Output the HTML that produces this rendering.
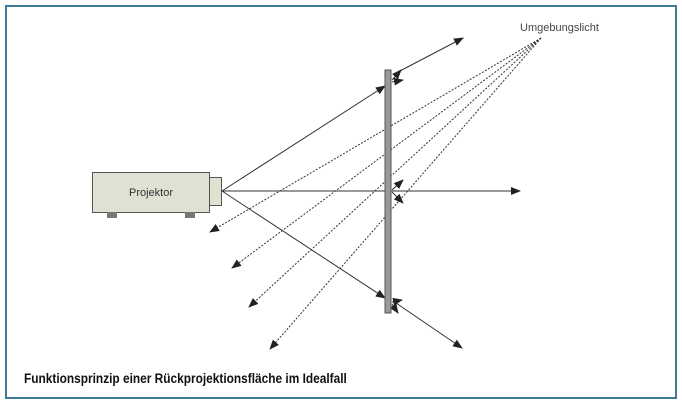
<!DOCTYPE html>
<html><head><meta charset="utf-8"><style>
html,body{margin:0;padding:0;background:#fff;}
body{width:682px;height:405px;position:relative;overflow:hidden;font-family:"Liberation Sans",sans-serif;}
.frame{position:absolute;left:5px;top:5px;width:668px;height:390px;border:2px solid #3d7a98;}
.cap{position:absolute;left:24px;top:371px;font-weight:bold;font-size:13.5px;color:#111;transform:scaleX(0.88);transform-origin:0 0;white-space:nowrap;}
</style></head><body>
<div class="frame"></div>
<svg width="682" height="405" style="position:absolute;left:0;top:0">
<defs>
<marker id="a" markerWidth="10" markerHeight="8" refX="9" refY="4" orient="auto" markerUnits="userSpaceOnUse"><path d="M0,0 L10,4 L0,8 z" fill="#222"/></marker>
</defs>
<g stroke="#333" stroke-width="1" fill="none">
<g stroke-dasharray="2,1.5">
<line x1="541" y1="38" x2="210" y2="232" marker-end="url(#a)"/>
<line x1="541" y1="38" x2="232" y2="268" marker-end="url(#a)"/>
<line x1="541" y1="38" x2="249" y2="307" marker-end="url(#a)"/>
<line x1="541" y1="38" x2="270" y2="349" marker-end="url(#a)"/>
</g>
<line x1="222" y1="191" x2="385" y2="86" marker-end="url(#a)"/>
<line x1="398" y1="72" x2="463" y2="38" marker-end="url(#a)"/>
<line x1="222" y1="191" x2="520" y2="191" marker-end="url(#a)"/>
<line x1="222" y1="191" x2="385" y2="298" marker-end="url(#a)"/>
<line x1="396" y1="303" x2="462" y2="348" marker-end="url(#a)"/>
<line x1="392" y1="190" x2="403" y2="180" marker-end="url(#a)"/>
<line x1="392" y1="192" x2="403" y2="203" marker-end="url(#a)"/>
<line x1="392" y1="80" x2="401" y2="70" marker-end="url(#a)"/>
<line x1="392" y1="82" x2="403" y2="80" marker-end="url(#a)"/>
<line x1="392" y1="302" x2="402" y2="300" marker-end="url(#a)"/>
<line x1="392" y1="304" x2="398" y2="313" marker-end="url(#a)"/>
</g>
<rect x="385" y="70" width="6" height="243" fill="#999" stroke="#555" stroke-width="1"/>
<rect x="92.5" y="172.5" width="117" height="40" fill="#dde2d3" stroke="#555" stroke-width="1"/>
<rect x="209.5" y="177.5" width="12" height="28" fill="#dde2d3" stroke="#555" stroke-width="1"/>
<rect x="107" y="212" width="10" height="6" fill="#777"/>
<rect x="185" y="212" width="10" height="6" fill="#777"/>
<text x="151" y="196" font-family="Liberation Sans,sans-serif" font-size="11" fill="#333" text-anchor="middle">Projektor</text>
<text x="520" y="31" font-family="Liberation Sans,sans-serif" font-size="11" fill="#444">Umgebungslicht</text>
</svg>
<div class="cap">Funktionsprinzip einer Rückprojektionsfläche im Idealfall</div>
</body></html>
